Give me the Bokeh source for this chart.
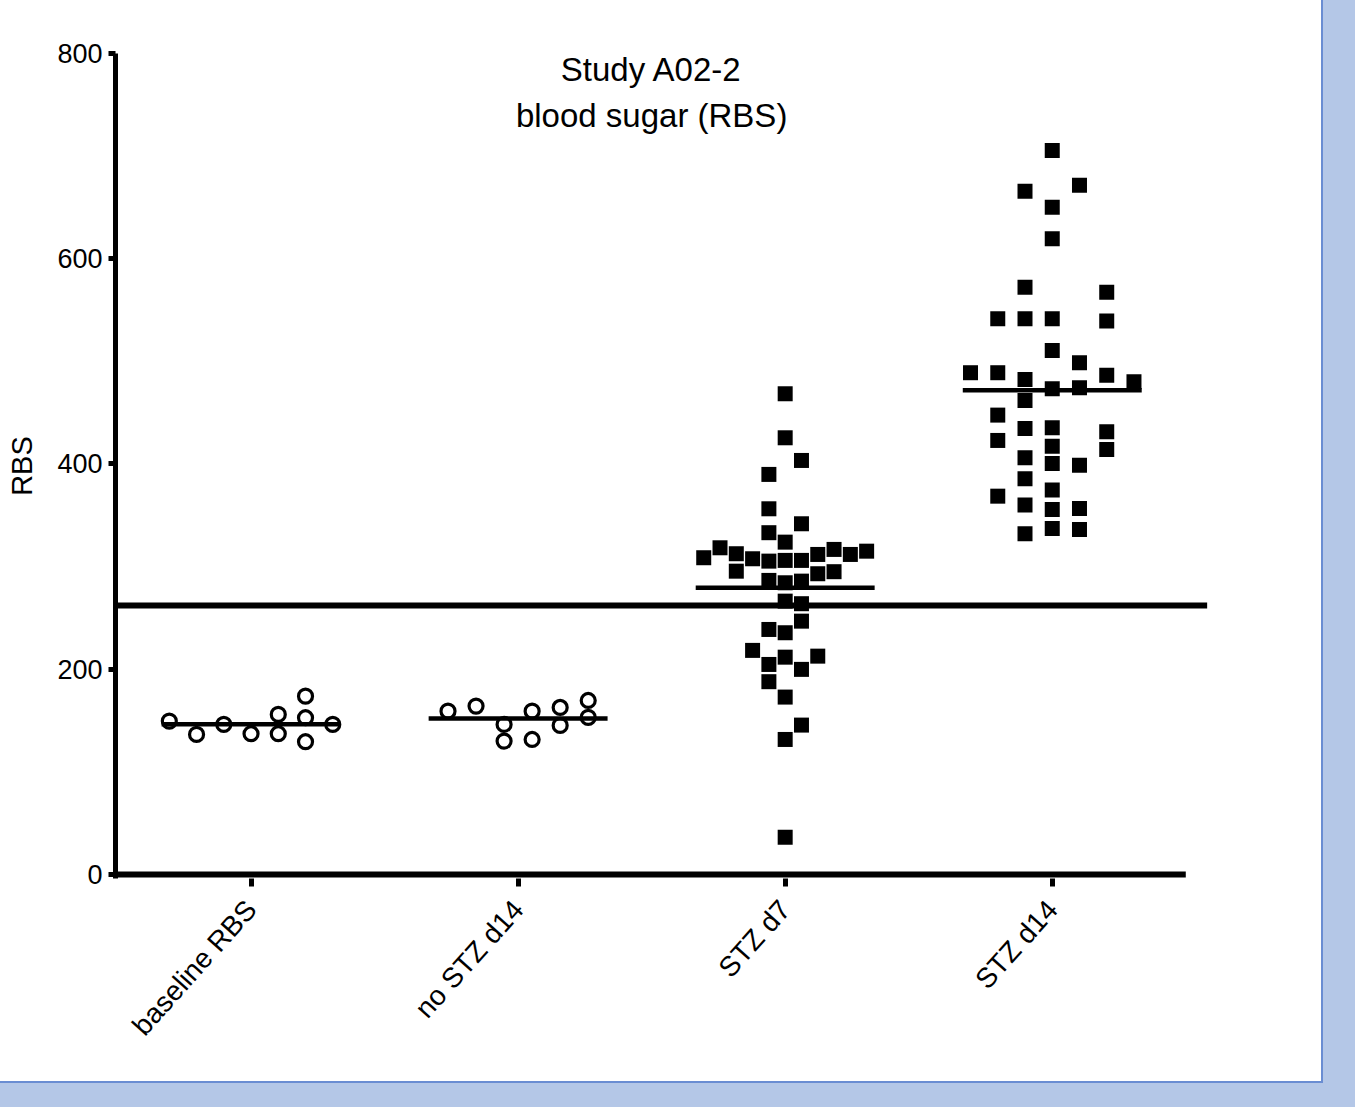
from math import pi
from bokeh.plotting import figure
from bokeh.models import Range1d, FixedTicker, ColumnDataSource, Label
from bokeh.embed import file_html
from bokeh.resources import INLINE

# ---------------- data ----------------
categories = ["baseline RBS", "no STZ d14", "STZ d7", "STZ d14"]
cat_pos = [1, 2, 3, 4]

baseline_vals = [149.4, 136.4, 146.2, 137.1, 155.9, 137.1, 173.7, 152.7, 129.3, 146.2]
baseline_slot = [-3, -2, -1, 0, 1, 1, 2, 2, 2, 3]

nostz_vals = [159.1, 164.0, 146.2, 129.9, 159.1, 131.5, 162.7, 145.2, 169.5, 153.0]
nostz_slot = [-2.5, -1.5, -0.5, -0.5, 0.5, 0.5, 1.5, 1.5, 2.5, 2.5]

d7_vals = [468.4, 425.5, 403.4, 389.8, 356.3, 341.7, 333.0, 323.8, 308.6, 318.3,
           312.5, 307.6, 305.3, 306.0, 306.0, 311.8, 316.7, 311.8, 315.0, 295.5,
           293.0, 295.0, 286.5, 284.2, 285.8, 266.3, 263.8, 246.8, 238.7, 235.5,
           218.3, 204.6, 211.7, 199.8, 212.7, 187.8, 172.8, 145.5, 131.5, 36.3]
d7_slot = [0, 0, 1, -1, -1, 1, -1, 0, -5, -4,
           -3, -2, -1, 0, 1, 2, 3, 4, 5, -3,
           2, 3, -1, 0, 1, 0, 1, 1, -1, 0,
           -2, -1, 0, 1, 2, -1, 0, 1, 0, 0]

d14_vals = [705.5, 665.8, 671.7, 650.2, 619.4, 572.3, 567.4, 541.5, 541.5, 541.5,
            539.2, 510.6, 498.6, 488.9, 488.9, 482.3, 473.3, 474.2, 486.5, 480.1,
            461.9, 447.6, 434.6, 435.3, 431.4, 422.9, 417.3, 414.1, 406.0, 400.5,
            398.8, 385.6, 374.5, 368.6, 359.9, 355.7, 356.6, 332.0, 337.2, 336.2]
d14_slot = [0, -1, 1, 0, 0, -1, 2, -2, -1, 0,
            2, 0, 1, -3, -2, -1, 0, 1, 2, 3,
            -1, -2, -1, 0, 2, -2, 0, 2, -1, 0,
            1, -1, 0, -2, -1, 0, 1, -1, 0, 1]

threshold = 262
y_ticks = [0, 200, 400, 600, 800]

# ---------------- figure ----------------
FONT = "Liberation Sans"
p = figure(frame_width=1103, frame_height=825,
           x_range=Range1d(0.4925, 4.6225), y_range=Range1d(-4, 800),
           output_backend="svg", toolbar_location=None,
           min_border_left=115, min_border_right=103,
           min_border_top=53, min_border_bottom=203,
           background_fill_color="white", border_fill_color="white",
           outline_line_color=None)
p.styles = {"outline": "2px solid #6a8dd2", "background-color": "white"}
p.grid.visible = False

# y axis
ya = p.yaxis[0]
ya.ticker = FixedTicker(ticks=y_ticks)
ya.axis_line_width = 5
ya.major_tick_line_width = 5
ya.major_tick_out = 7
ya.major_tick_in = 0
ya.minor_tick_line_color = None
ya.major_label_text_font = FONT
ya.major_label_text_font_size = "27px"
ya.major_label_text_color = "black"
ya.major_label_standoff = 6
ya.axis_label = "RBS"
ya.axis_label_text_font = FONT
ya.axis_label_text_font_size = "29px"
ya.axis_label_text_font_style = "normal"
ya.axis_label_text_color = "black"
ya.axis_label_standoff = 16

# x axis
xa = p.xaxis[0]
xa.ticker = FixedTicker(ticks=cat_pos)
xa.major_label_overrides = {pos: name for pos, name in zip(cat_pos, categories)}
xa.axis_line_color = None
xa.major_tick_line_width = 5
xa.major_tick_out = 8
xa.major_tick_in = 0
xa.minor_tick_line_color = None
xa.major_label_orientation = 0.84
xa.major_label_text_font = FONT
xa.major_label_text_font_size = "28px"
xa.major_label_text_color = "black"
xa.major_label_standoff = 18

# drawn x axis line (ends at 4.5 like the reference)
p.line(x=[0.48, 4.5], y=[0, 0], line_width=6, line_color="black")

# threshold line
p.line(x=[0.48, 4.58], y=[threshold, threshold], line_width=6, line_color="black")

groups = [
    (baseline_vals, baseline_slot, 0.102, "circle"),
    (nostz_vals, nostz_slot, 0.105, "circle"),
    (d7_vals, d7_slot, 0.061, "square"),
    (d14_vals, d14_slot, 0.102, "square"),
]

for pos, (vals, slots, sw, marker) in zip(cat_pos, groups):
    xs = [pos + s * sw for s in slots]
    src = ColumnDataSource(dict(x=xs, y=vals))
    if marker == "circle":
        p.scatter("x", "y", source=src, marker="circle", size=14,
                  line_width=3.2, line_color="black", fill_color=None)
    else:
        p.scatter("x", "y", source=src, marker="square", size=15,
                  line_color=None, fill_color="black")

# mean lines
means = [sum(g[0]) / len(g[0]) for g in groups]
half = 0.335
p.segment(x0=[c - half for c in cat_pos], x1=[c + half for c in cat_pos],
          y0=means, y1=means, line_width=4.5, line_color="black")

# title (inside plot area)
p.add_layout(Label(x=2.5, y=784.4, text="Study A02-2", text_font=FONT,
                   text_font_size="33px", text_align="center",
                   text_baseline="alphabetic", text_color="black"))
p.add_layout(Label(x=2.5, y=739.9, text="blood sugar (RBS)", text_font=FONT,
                   text_font_size="33px", text_align="center",
                   text_baseline="alphabetic", text_color="black"))

html = file_html(p, INLINE)
css = "<style>html, body { background-color: #b4c7e7 !important; }</style>"
if "</head>" in html:
    html = html.replace("</head>", css + "</head>", 1)
else:
    html = css + html
open("out.html", "w").write(html)
